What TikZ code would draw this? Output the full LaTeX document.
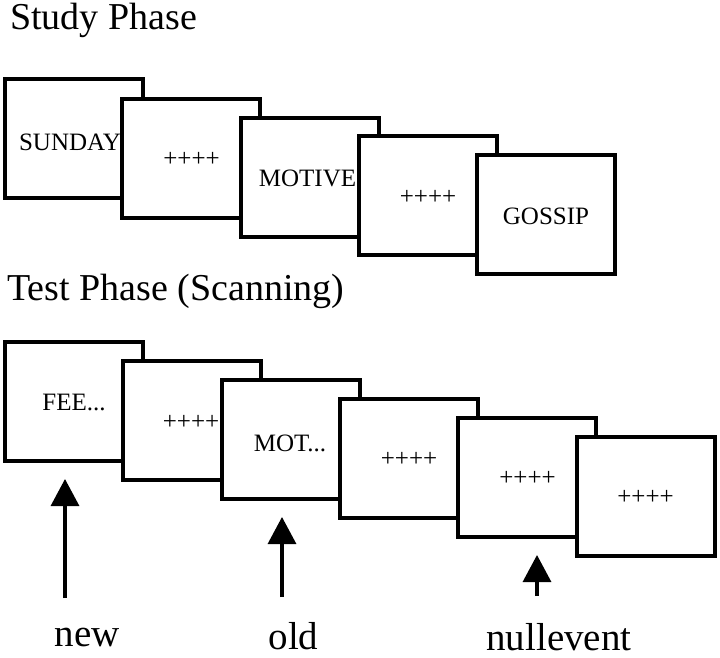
\documentclass[tikz,border=0pt]{standalone}
\usepackage{fontspec}
\setmainfont{Liberation Serif}
\usetikzlibrary{arrows.meta}
\tikzset{
  card/.style={draw=black, fill=white, line width=3.2pt, rectangle, inner sep=0pt,
    minimum width=138pt, minimum height=119pt},
  cardtext/.style={inner sep=0pt, font=\fontsize{25}{25}\selectfont},
  title/.style={inner sep=0pt, anchor=base west, font=\fontsize{38}{38}\selectfont},
  evlabel/.style={inner sep=0pt, anchor=base, font=\fontsize{39}{39}\selectfont},
  evarrow/.style={line width=3.2pt, -{Triangle[length=27pt,width=28pt]}}
}
\begin{document}
\begin{tikzpicture}[x=1pt,y=-1pt]
\useasboundingbox (0,0) rectangle (720,658);
% titles
\node[title] (t1) at (10,30) {Study Phase};
\node[title] (t2) at (7,300) {Test Phase (Scanning)};
% study phase
\node[card] (s1) at (74,138.5) {};
\node[cardtext] (w1) at (70,142) {SUNDAY};
\node[card] (s2) at (191,158.5) {};
\node[cardtext] (w2) at (191.5,159) {++++};
\node[card] (s3) at (310,177.5) {};
\node[cardtext] (w3) at (307.5,178.5) {MOTIVE};
\node[card] (s4) at (428,195.5) {};
\node[cardtext] (w4) at (428,197) {++++};
\node[card] (s5) at (546,214.5) {};
\node[cardtext] (w5) at (546,216) {GOSSIP};
% test phase
\node[card] (p1) at (74,401.5) {};
\node[cardtext] (q1) at (74,402) {FEE...};
\node[card] (p2) at (192,420.5) {};
\node[cardtext] (q2) at (191,422) {++++};
\node[card] (p3) at (291,439.5) {};
\node[cardtext] (q3) at (290,443) {MOT...};
\node[card] (p4) at (409,458.5) {};
\node[cardtext] (q4) at (409,459) {++++};
\node[card] (p5) at (527,477.5) {};
\node[cardtext] (q5) at (527.5,478) {++++};
\node[card] (p6) at (646,496.5) {};
\node[cardtext] (q6) at (645.5,497) {++++};
% event arrows
\coordinate (a1) at (65,598);
\coordinate (b1) at (65,479);
\coordinate (a2) at (282,597);
\coordinate (b2) at (282,517);
\coordinate (a3) at (537,596);
\coordinate (b3) at (537,555);
\draw[evarrow] (a1) -- (b1);
\draw[evarrow] (a2) -- (b2);
\draw[evarrow] (a3) -- (b3);
\node[evlabel] (l1) at (87,646) {new};
\node[evlabel] (l2) at (293.5,649) {old};
\node[evlabel] (l3) at (559,650) {nullevent};
\end{tikzpicture}
\end{document}
